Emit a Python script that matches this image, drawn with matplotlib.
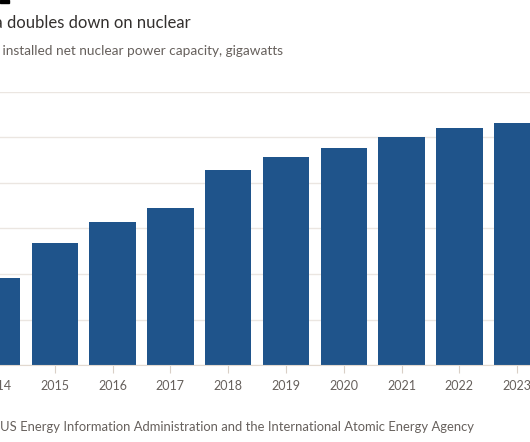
import matplotlib.pyplot as plt

years = ['2014', '2015', '2016', '2017', '2018', '2019', '2020', '2021', '2022', '2023']
capacity_gw = [19.1, 26.8, 31.4, 34.5, 42.9, 45.7, 47.7, 50.1, 52.1, 53.2]
y_ticks = [0, 10, 20, 30, 40, 50, 60]

title = 'China doubles down on nuclear'
subtitle = 'Total installed net nuclear power capacity, gigawatts'
source = 'Source: US Energy Information Administration and the International Atomic Energy Agency'

BAR = '#1f548b'
TEXT = '#33302e'
GREY = '#66605c'
GRID = '#ebe6e1'

plt.rcParams['font.family'] = ['Lato', 'DejaVu Sans']

W, H = 530, 442
fig = plt.figure(figsize=(W / 100, H / 100), dpi=100, facecolor='white')

# the picture is a crop: the axes start left of the canvas
x0_px, step_px = -3.0, 57.8
xlim = (-0.6, 9.6)
left_px = x0_px + xlim[0] * step_px
right_px = x0_px + xlim[1] * step_px
top_px, base_px = 92.0, 365.0
ax = fig.add_axes([left_px / W, (H - base_px) / H,
                   (right_px - left_px) / W, (base_px - top_px) / H])

x = range(len(years))
ax.bar(x, capacity_gw, width=0.8, color=BAR, zorder=3)
ax.set_xlim(*xlim)
ax.set_ylim(0, 60)
# y labels sit off the cropped canvas, so only the gridlines remain
ax.set_yticks(y_ticks)
ax.set_yticklabels([])
ax.set_xticks(list(x))
ax.set_xticklabels(years)
ax.grid(axis='y', color=GRID, linewidth=1, zorder=0)
for s in ['top', 'right', 'left']:
    ax.spines[s].set_visible(False)
ax.spines['bottom'].set_color('#e2d9d0')
ax.spines['bottom'].set_zorder(4)
ax.tick_params(axis='x', length=6, width=0.8, color='#d9cfc6', labelsize=9,
               labelcolor=GREY, pad=5)
ax.tick_params(axis='y', length=0)


def put_cropped(prefix, full, x_vis, y, **kw):
    # place the full string so the visible part starts at x_vis pixels
    r = fig.canvas.get_renderer()
    t = fig.text(0, 0, prefix, **kw)
    w = t.get_window_extent(r).width
    t.remove()
    return fig.text((x_vis - w) / W, 1 - y / H, full, va='center', **kw)


put_cropped('China ', title, 7.0, 23, fontsize=12, color=TEXT)
put_cropped('Total ', subtitle, 2.5, 51, fontsize=9.8, color=GREY)
put_cropped('Source: ', source, 0.5, 427, fontsize=9.4, color=GREY)

# FT style black tag in the top-left corner
fig.patches.append(plt.Rectangle((0, 1 - 3 / H), 9 / W, 3 / H,
                                 transform=fig.transFigure, color='black'))

fig.savefig('out.png', dpi=100)
